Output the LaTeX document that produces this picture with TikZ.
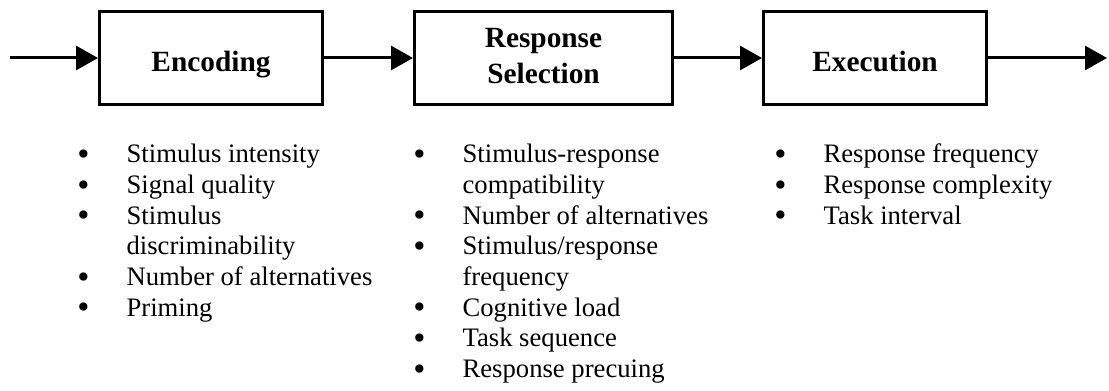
\documentclass[tikz,border=0pt]{standalone}
\usepackage{fontspec}
\setmainfont{Liberation Serif}
\usetikzlibrary{arrows.meta}
\usetikzlibrary{positioning}
\newcommand{\itemdot}{\raisebox{-2pt}{\fontsize{26}{23}\selectfont\textbullet}}

\begin{document}
\begin{tikzpicture}[x=0.75pt, y=-0.75pt,
  stage/.style = {draw, line width=2.25pt, minimum height=69.75pt, inner sep=0pt,
    align=center, text height=27pt, text depth=7pt,
    font=\fontsize{22}{27}\selectfont\bfseries},
  flow/.style = {line width=2.25pt, -{Triangle[length=16.5pt,width=18pt]}},
  factors/.style = {anchor=base west, inner sep=0pt, font=\fontsize{20}{23}\selectfont}]
\useasboundingbox (0,0) rectangle (1109,391);
% stages
\node[stage, minimum width=167.25pt] (enc) at (211,58) {Encoding};
\node[stage, minimum width=193.5pt, text height=45pt, text depth=6pt] (sel) at (543.5,58) {Response\\Selection};
\node[stage, minimum width=167.25pt] (exe) at (875,58) {Execution};
\coordinate (in) at (10,58);
\coordinate (out) at (1107,58);
\draw[flow] (in) -- (enc);
\draw[flow] (enc) -- (sel);
\draw[flow] (sel) -- (exe);
\draw[flow] (exe) -- (out);
% factors below each stage
\node[factors] (encf) at (77,163) {\begin{tabular}[t]{@{}p{37pt}@{}l@{}}
\itemdot & Stimulus intensity\\
\itemdot & Signal quality\\
\itemdot & Stimulus\\
 & discriminability\\
\itemdot & Number of alternatives\\
\itemdot & Priming
\end{tabular}};
\node[factors] (self) at (413,163) {\begin{tabular}[t]{@{}p{37pt}@{}l@{}}
\itemdot & Stimulus-response\\
 & compatibility\\
\itemdot & Number of alternatives\\
\itemdot & Stimulus/response\\
 & frequency\\
\itemdot & Cognitive load\\
\itemdot & Task sequence\\
\itemdot & Response precuing
\end{tabular}};
\node[factors] (exef) at (774,163) {\begin{tabular}[t]{@{}p{37pt}@{}l@{}}
\itemdot & Response frequency\\
\itemdot & Response complexity\\
\itemdot & Task interval
\end{tabular}};
\end{tikzpicture}
\end{document}
